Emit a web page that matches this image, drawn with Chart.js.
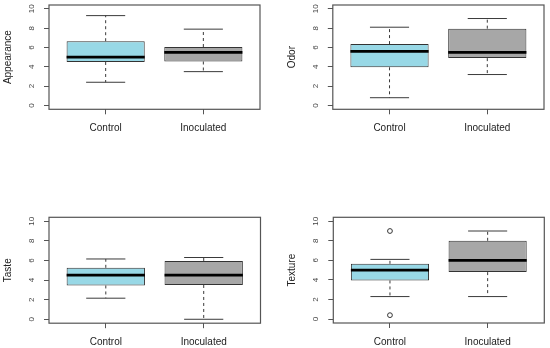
<!DOCTYPE html>
<html>
<head>
<meta charset="utf-8">
<script src="https://cdn.jsdelivr.net/npm/chart.js@4/dist/chart.umd.min.js"></script>
<style>
  body{margin:0;background:#fff;}
  #wrap{position:relative;width:550px;height:348px;overflow:hidden;}
  #wrap canvas{position:absolute;}
</style>
</head>
<body>
<div id="wrap">
  <canvas id="appearance" width="275" height="174" style="left:0;top:0"></canvas>
  <canvas id="odor" width="275" height="174" style="left:275px;top:0"></canvas>
  <canvas id="taste" width="275" height="174" style="left:0;top:174px"></canvas>
  <canvas id="texture" width="275" height="174" style="left:275px;top:174px"></canvas>
</div>
<script>
// groups + y ticks
const GROUPS = ['Control', 'Inoculated'];
const Y_TICKS = [0, 2, 4, 6, 8, 10];

// five-number summaries: [lower whisker, Q1, median, Q3, upper whisker]
const APPEARANCE_CONTROL = [2.4, 4.5, 5.0, 6.65, 9.3];
const APPEARANCE_INOC    = [3.5, 4.55, 5.5, 6.05, 7.9];
const ODOR_CONTROL       = [0.8, 3.95, 5.6, 6.35, 8.1];
const ODOR_INOC          = [3.2, 4.9, 5.5, 7.95, 9.0];
const TASTE_CONTROL      = [2.15, 3.45, 4.5, 5.25, 6.15];
const TASTE_INOC         = [0, 3.5, 4.5, 5.95, 6.3];
const TEXTURE_CONTROL    = [2.3, 3.95, 5.0, 5.65, 6.1];
const TEXTURE_INOC       = [2.3, 4.8, 6.0, 8.0, 9.0];

// outliers (group index, value)
const TEXTURE_OUTLIERS = [[0, 9.0], [0, 0.4]];

const FILLS = ['#98d8e6', '#a7a7a7'];
const FONT = "'Liberation Sans', Arial, sans-serif";

// whiskers, staples, medians + frame, placed through the chart scales
const boxExtras = {
  id: 'boxExtras',
  afterDatasetsDraw(chart, args, opts){
    const {ctx, scales:{x, y}} = chart;
    const bars = chart.getDatasetMeta(0).data;
    opts.stats.forEach((s, i) => {
      const cx = x.getPixelForValue(i + 1);
      const c0 = x.getPixelForValue(i + 1 - 0.2), c1 = x.getPixelForValue(i + 1 + 0.2);
      const seg = (x0, y0, x1, y1) => { ctx.beginPath(); ctx.moveTo(x0, y0); ctx.lineTo(x1, y1); ctx.stroke(); };
      ctx.save();
      ctx.strokeStyle = '#3a3a3a';
      ctx.lineWidth = 1;
      ctx.setLineDash([3, 3]);
      seg(cx, y.getPixelForValue(s[3]), cx, y.getPixelForValue(s[4]));
      seg(cx, y.getPixelForValue(s[1]), cx, y.getPixelForValue(s[0]));
      ctx.setLineDash([]);
      seg(c0, y.getPixelForValue(s[4]), c1, y.getPixelForValue(s[4]));
      seg(c0, y.getPixelForValue(s[0]), c1, y.getPixelForValue(s[0]));
      const b = bars[i];
      ctx.strokeStyle = '#000';
      ctx.lineWidth = 2.8;
      seg(b.x - b.width/2, y.getPixelForValue(s[2]), b.x + b.width/2, y.getPixelForValue(s[2]));
      ctx.restore();
    });
  },
  afterDraw(chart){
    const {ctx, chartArea:a} = chart;
    ctx.save();
    ctx.strokeStyle = '#555';
    ctx.lineWidth = 1.2;
    ctx.strokeRect(a.left, a.top, a.right - a.left, a.bottom - a.top);
    ctx.restore();
  }
};

function panel(id, title, stats, outliers, box, titlePad){
  // box: chart area inside the 275x174 canvas
  const ctx = document.getElementById(id);
  new Chart(ctx, {
    type: 'bar',
    data: {
      datasets: [
        {
          data: stats.map((s, i) => ({x: i + 1, y: [s[1], s[3]]})),
          backgroundColor: FILLS,
          borderColor: '#333',
          borderWidth: 1,
          borderSkipped: false,
          barPercentage: 0.8,
          categoryPercentage: 1
        },
        {
          type: 'scatter',
          data: outliers.map(o => ({x: o[0] + 1, y: o[1]})),
          pointRadius: 2.4,
          pointBorderWidth: 1,
          pointBorderColor: '#333',
          pointBackgroundColor: '#fff'
        }
      ]
    },
    options: {
      responsive: false,
      animation: false,
      events: [],
      layout: {padding: {left: 0, top: box.top, right: 275 - box.right, bottom: 0}},
      plugins: {legend: {display: false}, tooltip: {enabled: false}, boxExtras: {stats}},
      scales: {
        x: {
          type: 'linear', min: 0.42, max: 2.58, offset: false,
          grid: {drawOnChartArea: false, offset: false, tickLength: 5, color: '#555'},
          border: {display: false},
          afterBuildTicks: s => { s.ticks = GROUPS.map((g, i) => ({value: i + 1})); },
          afterFit: s => { s.height = 174 - box.bottom; s.paddingLeft = 0; s.paddingRight = 0; },
          ticks: {
            autoSkip: false, maxRotation: 0, padding: 8, color: '#222',
            font: {family: FONT, size: 10},
            callback: v => GROUPS[v - 1]
          }
        },
        y: {
          min: -0.4, max: 10.4,
          grid: {drawOnChartArea: false, tickLength: 5, color: '#555'},
          border: {display: false},
          afterBuildTicks: s => { s.ticks = Y_TICKS.map(v => ({value: v})); },
          afterFit: s => { s.width = box.left; s.paddingTop = 0; s.paddingBottom = 0; },
          ticks: {
            minRotation: 90, maxRotation: 90, crossAlign: 'center', padding: 8,
            color: '#444', font: {family: FONT, size: 8}
          },
          title: {display: true, text: title, color: '#222', padding: {top: titlePad, bottom: 0},
                  font: {family: FONT, size: 10}}
        }
      }
    },
    plugins: [boxExtras]
  });
}

panel('appearance', 'Appearance', [APPEARANCE_CONTROL, APPEARANCE_INOC], [],
      {left: 49, top: 5, right: 260, bottom: 109.3}, 2.3);
panel('odor', 'Odor', [ODOR_CONTROL, ODOR_INOC], [],
      {left: 57.8, top: 5, right: 269, bottom: 109.3}, 11.3);
panel('taste', 'Taste', [TASTE_CONTROL, TASTE_INOC], [],
      {left: 49, top: 43.3, right: 260.5, bottom: 149.2}, 2.3);
panel('texture', 'Texture', [TEXTURE_CONTROL, TEXTURE_INOC], TEXTURE_OUTLIERS,
      {left: 58.3, top: 43.3, right: 269.3, bottom: 149}, 11.3);
</script>
</body>
</html>
